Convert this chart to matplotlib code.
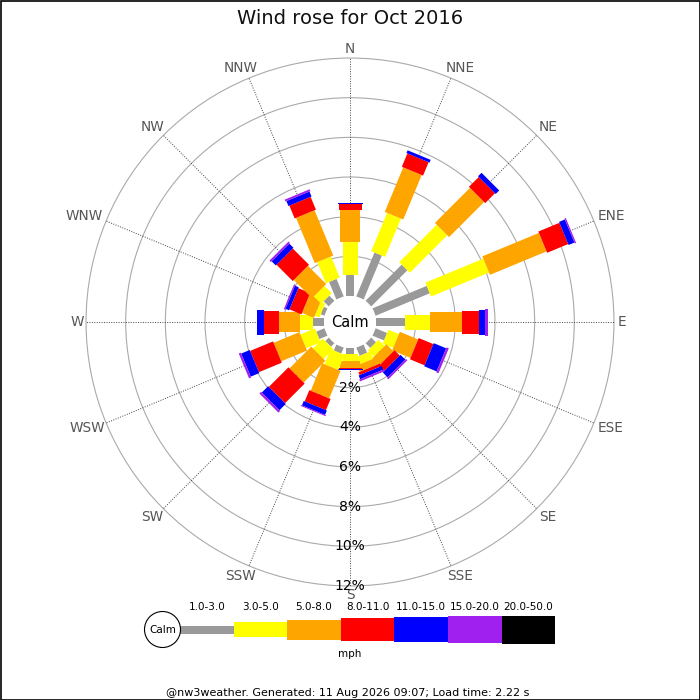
import numpy as np
import matplotlib
matplotlib.use("Agg")
import matplotlib.pyplot as plt
from matplotlib.patches import Polygon, Circle, Rectangle

# ---------------- data ----------------
directions = ["N", "NNE", "NE", "ENE", "E", "ESE", "SE", "SSE",
              "S", "SSW", "SW", "WSW", "W", "WNW", "NW", "NNW"]
bands = ["1.0-3.0", "3.0-5.0", "5.0-8.0", "8.0-11.0", "11.0-15.0", "15.0-20.0", "20.0-50.0"]
band_colors = ["#999999", "#ffff00", "#ffa500", "#ff0000", "#0000ff", "#a020f0", "#000000"]

# percentage of time per direction for each speed band (mph)
spd_1_3   = [1.05, 2.40, 2.58, 2.96, 1.45, 0.63, 0.34, 0.45, 0.30, 0.33, 0.25, 0.45, 0.53, 0.20, 0.37, 0.96]
spd_3_5   = [1.67, 2.09, 2.67, 3.16, 1.28, 0.57, 0.44, 0.40, 0.35, 0.82, 0.70, 0.79, 0.70, 0.25, 0.52, 1.15]
spd_5_8   = [1.61, 2.43, 2.50, 3.09, 1.59, 1.00, 0.50, 0.35, 0.35, 1.50, 1.55, 1.41, 1.05, 0.65, 1.30, 2.47]
spd_8_11  = [0.30, 0.73, 0.70, 1.15, 0.85, 0.80, 0.38, 0.15, 0.05, 0.61, 1.40, 1.25, 0.75, 0.65, 1.16, 0.70]
spd_11_15 = [0.07, 0.15, 0.25, 0.32, 0.33, 0.68, 0.34, 0.20, 0.05, 0.24, 0.45, 0.47, 0.34, 0.20, 0.30, 0.27]
spd_15_20 = [0.00, 0.00, 0.00, 0.07, 0.13, 0.12, 0.10, 0.10, 0.00, 0.05, 0.12, 0.11, 0.00, 0.07, 0.10, 0.10]
spd_20_50 = [0.00] * 16
ring_pcts = [2, 4, 6, 8, 10, 12]
unit_label = "mph"
title = "Wind rose for Oct 2016"
footer = "@nw3weather. Generated: 11 Aug 2026 09:07; Load time: 2.22 s"

series = [spd_1_3, spd_3_5, spd_5_8, spd_8_11, spd_11_15, spd_15_20, spd_20_50]

# ---------------- layout / style ----------------
W = H = 700
PX = 19.83               # pixels per percent
CX, CY = 350, 322        # rose centre in pixels
CALM_R = 26 / PX         # calm circle radius in data units
bar_px = [8, 15, 20, 23, 25, 27, 28]      # bar thickness per band (px)
# direction label centres (pixels, from top-left)
label_pos = [(350, 49), (460, 68), (548, 127), (611, 216), (622, 322), (611, 428),
             (548, 517), (460, 576), (350, 595), (241, 576), (152, 517), (87, 428),
             (77, 322), (84, 216), (152, 127), (241, 68)]

fig = plt.figure(figsize=(7, 7), dpi=100)
fig.patch.set_facecolor("white")

ax = fig.add_axes([0, 0, 1, 1])
ax.set_xlim(-CX / PX, (W - CX) / PX)
ax.set_ylim(-(H - CY) / PX, CY / PX)
ax.set_aspect("equal")
ax.axis("off")

outer = CALM_R + max(ring_pcts)

# rings
for p in ring_pcts:
    ax.add_patch(Circle((0, 0), CALM_R + p, fill=False, edgecolor="#aaaaaa", lw=0.8, zorder=1))

# spokes
for i, d in enumerate(directions):
    th = np.deg2rad(i * 22.5)
    u = np.array([np.sin(th), np.cos(th)])
    ax.plot([0, outer * u[0]], [0, outer * u[1]], color="#444444", lw=0.7,
            linestyle=(0, (1, 1.5)), zorder=1.5)

# bars
for i in range(len(directions)):
    th = np.deg2rad(i * 22.5)
    u = np.array([np.sin(th), np.cos(th)])
    pv = np.array([np.cos(th), -np.sin(th)])
    r0 = CALM_R
    for b, vals in enumerate(series):
        v = vals[i]
        if v <= 0:
            continue
        r1 = r0 + v
        hw = bar_px[b] / PX / 2
        pts = [r0 * u + hw * pv, r1 * u + hw * pv, r1 * u - hw * pv, r0 * u - hw * pv]
        ax.add_patch(Polygon(pts, closed=True, facecolor=band_colors[b],
                             edgecolor="none", zorder=3))
        r0 = r1

# calm circle
ax.add_patch(Circle((0, 0), CALM_R, facecolor="white", edgecolor="none", zorder=4))
ax.text(0, 0, "Calm", ha="center", va="center", fontsize=10.5, color="black", zorder=6)

# radial labels
for p in ring_pcts:
    ax.text(0, -(CALM_R + p), f"{p}%", ha="center", va="center", fontsize=10,
            color="black", zorder=6)

# ---------------- overlay in pixel coordinates (labels, title, legend, footer) ----------------
ov = fig.add_axes([0, 0, 1, 1], facecolor="none")
ov.set_xlim(0, W)
ov.set_ylim(H, 0)
ov.axis("off")

for d, (lx, ly_) in zip(directions, label_pos):
    ov.text(lx, ly_, d, ha="center", va="center", fontsize=9.8, color="#555555", zorder=5)

ov.text(W / 2, 18, title, ha="center", va="center", fontsize=14, color="#111111")

# legend
lx0, lw_box, ly = 180.0, 53.6, 629.5
ov.add_patch(Circle((162.5, ly), 18, facecolor="white", edgecolor="black", lw=0.8, zorder=5))
ov.text(162.5, ly + 0.5, "Calm", ha="center", va="center", fontsize=7.5, zorder=6)
for b, lab in enumerate(bands):
    h = bar_px[b]
    ov.add_patch(Rectangle((lx0 + b * lw_box, ly - h / 2), lw_box, h,
                           facecolor=band_colors[b], edgecolor="none", zorder=4))
    ov.text(lx0 + (b + 0.5) * lw_box, 607, lab, ha="center", va="center", fontsize=7.5)
ov.text(W / 2, 654, unit_label, ha="center", va="center", fontsize=7.5)

ov.text(W / 2 - 2, 692.5, footer, ha="center", va="center", fontsize=8)

# outer frame
ov.add_patch(Rectangle((0.5, 0.5), W - 1, H - 1, fill=False, edgecolor="black", lw=1.2, zorder=10))

fig.savefig("out.png", dpi=100, facecolor="white")
